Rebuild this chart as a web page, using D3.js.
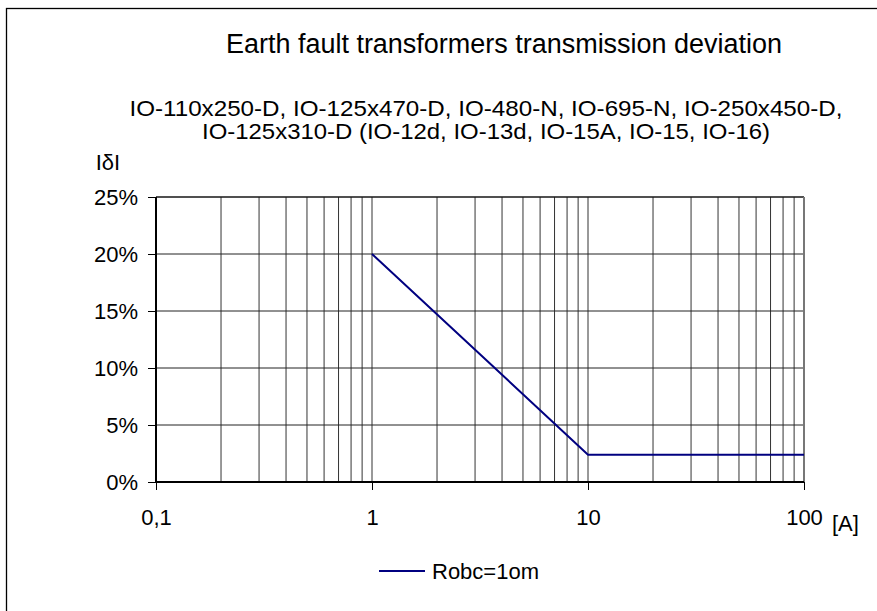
<!DOCTYPE html>
<html>
<head>
<meta charset="utf-8">
<script src="https://cdn.jsdelivr.net/npm/d3@7"></script>
<style>
  body { margin: 0; background: #fff; }
  svg text { font-family: "Liberation Sans", Arial, sans-serif; fill: #000; }
</style>
</head>
<body>
<svg id="chart" width="877" height="611"></svg>
<script>
// chart values
const titleText = "Earth fault transformers transmission deviation";
const subtitleLines = [
  "IO-110x250-D, IO-125x470-D, IO-480-N, IO-695-N, IO-250x450-D,",
  "IO-125x310-D (IO-12d, IO-13d, IO-15A, IO-15, IO-16)"
];
const xTickValues = [0.1, 1, 10, 100];
const xTickLabels = ["0,1", "1", "10", "100"];
const yTickValues = [0, 0.05, 0.10, 0.15, 0.20, 0.25];
const seriesName = "Robc=1om";
const seriesX = [1, 10, 100];
const seriesY = [0.20, 0.024, 0.024];

const svg = d3.select("#chart");

// outer frame (cut off at right and bottom, like the source)
svg.append("rect")
  .attr("x", 6.5).attr("y", 8.5)
  .attr("width", 900).attr("height", 700)
  .attr("fill", "none").attr("stroke", "#000").attr("stroke-width", 1.3);

const plot = { left: 156, right: 804, top: 197, bottom: 482 };

const x = d3.scaleLog().domain([0.1, 100]).range([plot.left, plot.right]);
const y = d3.scaleLinear().domain([0, 0.25]).range([plot.bottom, plot.top]);

// titles
svg.append("text")
  .attr("x", 504).attr("y", 53)
  .attr("text-anchor", "middle")
  .attr("font-size", 27)
  .attr("textLength", 556).attr("lengthAdjust", "spacingAndGlyphs")
  .text(titleText);

const subWidths = [713, 568];
subtitleLines.forEach((line, i) => {
  svg.append("text")
    .attr("x", 486).attr("y", 116 + i * 23)
    .attr("text-anchor", "middle")
    .attr("font-size", 22)
    .attr("textLength", subWidths[i]).attr("lengthAdjust", "spacingAndGlyphs")
    .text(line);
});

// y unit label
svg.append("text")
  .attr("x", 108).attr("y", 170)
  .attr("text-anchor", "middle")
  .attr("font-size", 22)
  .text("IδI");

// grid lines
const grid = svg.append("g");
grid.selectAll(".vgrid")
  .data(x.ticks())
  .enter().append("line")
  .attr("class", "vgrid")
  .attr("x1", d => x(d)).attr("x2", d => x(d))
  .attr("y1", plot.top).attr("y2", plot.bottom)
  .attr("stroke", "#333").attr("stroke-width", 1);

grid.selectAll(".hgrid")
  .data(yTickValues)
  .enter().append("line")
  .attr("class", "hgrid")
  .attr("x1", plot.left).attr("x2", plot.right)
  .attr("y1", d => y(d)).attr("y2", d => y(d))
  .attr("stroke", "#222").attr("stroke-width", 1);

// plot frame
svg.append("line")
  .attr("x1", plot.left).attr("x2", plot.right)
  .attr("y1", plot.top).attr("y2", plot.top)
  .attr("stroke", "#111").attr("stroke-width", 1.2);
svg.append("line")
  .attr("x1", plot.right).attr("x2", plot.right)
  .attr("y1", plot.top).attr("y2", plot.bottom)
  .attr("stroke", "#777").attr("stroke-width", 2);

// axes
const yAxis = d3.axisLeft(y)
  .tickValues(yTickValues)
  .tickSize(8)
  .tickPadding(10)
  .tickFormat(d3.format(".0%"));

const gy = svg.append("g")
  .attr("transform", `translate(${plot.left},0)`)
  .call(yAxis);
gy.select(".domain").attr("stroke", "#000").attr("stroke-width", 2).attr("d", `M0,${plot.top}V${plot.bottom}`);
gy.selectAll(".tick line").attr("stroke", "#000");
gy.selectAll(".tick text").attr("font-size", 22).attr("font-family", "Liberation Sans, Arial, sans-serif");

const xAxis = d3.axisBottom(x)
  .tickValues(xTickValues)
  .tickSize(8)
  .tickPadding(19)
  .tickFormat((d, i) => xTickLabels[i]);

const gx = svg.append("g")
  .attr("transform", `translate(0,${plot.bottom})`)
  .call(xAxis);
gx.select(".domain").attr("stroke", "#000").attr("stroke-width", 2).attr("d", `M${plot.left},0H${plot.right}`);
gx.selectAll(".tick line").attr("stroke", "#000");
gx.selectAll(".tick text").attr("font-size", 22).attr("font-family", "Liberation Sans, Arial, sans-serif");

// x unit label
svg.append("text")
  .attr("x", 832).attr("y", 531)
  .attr("font-size", 22)
  .text("[A]");

// series line
const seriesData = seriesX.map((v, i) => ({ x: v, y: seriesY[i] }));
const line = d3.line().x(d => x(d.x)).y(d => y(d.y));

svg.append("path")
  .datum(seriesData)
  .attr("d", line)
  .attr("fill", "none")
  .attr("stroke", "#000080")
  .attr("stroke-width", 2);

// legend
svg.append("line")
  .attr("x1", 379).attr("x2", 425)
  .attr("y1", 571).attr("y2", 571)
  .attr("stroke", "#000080").attr("stroke-width", 2);
svg.append("text")
  .attr("x", 432).attr("y", 579)
  .attr("font-size", 22)
  .text(seriesName);
</script>
</body>
</html>
